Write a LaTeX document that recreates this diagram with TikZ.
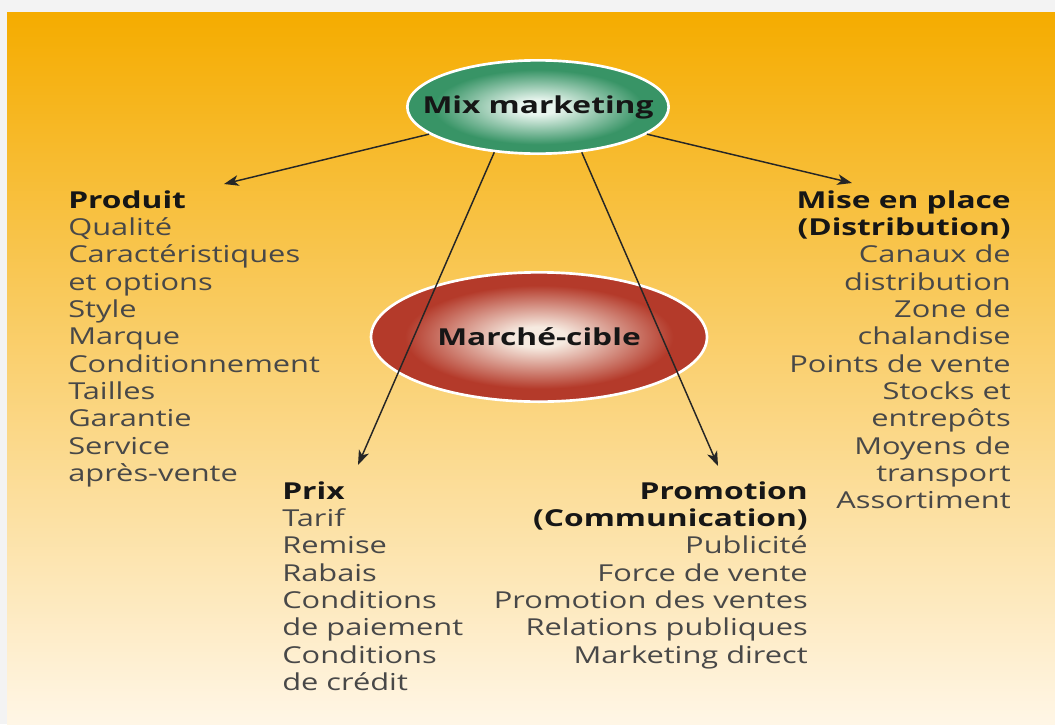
\documentclass[tikz,border=0pt]{standalone}
\usepackage{fontspec}
\setmainfont{Open Sans}[FakeStretch=1.32, BoldFeatures={FakeStretch=1.36}]
\usetikzlibrary{shapes.geometric,arrows.meta}
\definecolor{frameGrey}{RGB}{243,243,243}
\definecolor{panelTop}{RGB}{245,172,0}
\definecolor{panelMid}{RGB}{250,212,125}
\definecolor{panelBot}{RGB}{255,246,230}
\definecolor{mixIn}{RGB}{232,245,238}
\definecolor{mixOut}{RGB}{56,148,102}
\definecolor{cibleIn}{RGB}{246,234,224}
\definecolor{cibleOut}{RGB}{180,58,42}
\definecolor{headInk}{RGB}{22,22,22}
\definecolor{itemInk}{RGB}{72,72,72}
\definecolor{arrowInk}{RGB}{38,38,38}
\pgfdeclareradialshading{mixShade}{\pgfpoint{0bp}{0bp}}{color(0bp)=(mixIn); color(4bp)=(mixIn); color(20bp)=(mixOut); color(50bp)=(mixOut)}
\pgfdeclareradialshading{cibleShade}{\pgfpoint{0bp}{0bp}}{color(0bp)=(cibleIn); color(4bp)=(cibleIn); color(20bp)=(cibleOut); color(50bp)=(cibleOut)}
\newcommand{\head}[1]{\textbf{\color{headInk}#1}}
\tikzset{>={Stealth[length=11pt,width=8pt,inset=3pt]},
  bubble/.style={ellipse, draw=white, line width=2pt, shade, inner ysep=0pt, inner xsep=-40pt,
    font=\fontsize{17.5}{20.5}\selectfont\bfseries, text=headInk},
  col/.style={inner sep=0pt, font=\fontsize{17.5}{20.5}\selectfont, text=itemInk},
  link/.style={->, line width=1.1pt, draw=arrowInk}}
\begin{document}
\begin{tikzpicture}[x=0.75pt,y=-0.75pt]
  \useasboundingbox (0,0) rectangle (1055,724);
  \fill[frameGrey] (0,0) rectangle (1055,724);
  \shade[top color=panelTop, middle color=panelMid, bottom color=panelBot] (7,13) rectangle (1055,724);

  % the two bubbles
  \node[bubble, shading=mixShade, minimum width=196pt, minimum height=70pt] (mix) at (538,107) {Mix marketing};
  \node[bubble, shading=cibleShade, minimum width=252pt, minimum height=97pt] (cible) at (539,337) {Marché-cible};

  % the four columns
  \node[col, anchor=north west, align=left] (produit) at (68,190)
    {\head{Produit}\\Qualité\\Caractéristiques\\et options\\Style\\Marque\\Conditionnement\\Tailles\\Garantie\\Service\\après-vente};
  \node[col, anchor=north east, align=right] (place) at (1011,190)
    {\head{Mise en place}\\\head{(Distribution)}\\Canaux de\\distribution\\Zone de\\chalandise\\Points de vente\\Stocks et\\entrepôts\\Moyens de\\transport\\Assortiment};
  \node[col, anchor=north west, align=left] (prix) at (282,481)
    {\head{Prix}\\Tarif\\Remise\\Rabais\\Conditions\\de paiement\\Conditions\\de crédit};
  \node[col, anchor=north east, align=right] (promo) at (808,481)
    {\head{Promotion}\\\head{(Communication)}\\Publicité\\Force de vente\\Promotion des ventes\\Relations publiques\\Marketing direct};

  % arrows
  \coordinate (produitTip) at (224,184);
  \coordinate (placeTip) at (852,183);
  \coordinate (prixTip) at (358,465);
  \coordinate (promoTip) at (718,466);
  \draw[link] (mix.194) -- (produitTip);
  \draw[link] (mix.346) -- (placeTip);
  \draw[link] (mix.226) -- (prixTip);
  \draw[link] (mix.314) -- (promoTip);
\end{tikzpicture}
\end{document}
